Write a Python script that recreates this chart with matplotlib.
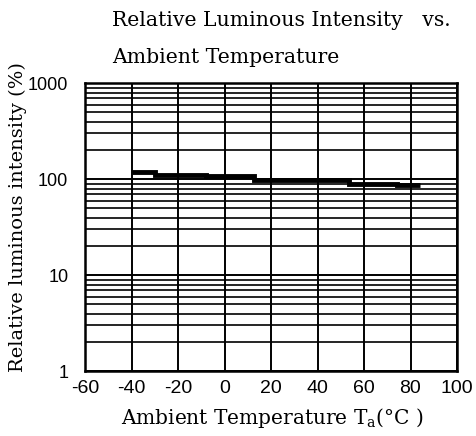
import matplotlib
matplotlib.use("Agg")
import matplotlib.pyplot as plt
from matplotlib.ticker import FixedLocator, LogLocator, NullFormatter

# Step edges (deg C) and relative intensity (%)
temp_edges = [-40, -30, -8, 12.5, 53.5, 74, 84]
intensity = [119, 111, 108, 99, 89, 87]

x_ticks = [-60, -40, -20, 0, 20, 40, 60, 80, 100]
y_ticks = [1, 10, 100, 1000]
y_tick_labels = ["1", "10", "100", "1000"]

SERIF = "DejaVu Serif"
SANS = "Liberation Sans"

plt.rcParams["axes.unicode_minus"] = False

fig = plt.figure(figsize=(4.76, 4.36), dpi=100)
ax = fig.add_axes([85 / 476, 1 - 371.3 / 436, 372 / 476, 288 / 436])

ax.set_yscale("log")
ax.set_xlim(-60, 100)
ax.set_ylim(1, 1000)

# grid: vertical every 20, horizontal at every 1..9 of each decade
ax.xaxis.set_major_locator(FixedLocator(x_ticks))
ax.yaxis.set_major_locator(FixedLocator(y_ticks))
ax.yaxis.set_minor_locator(LogLocator(base=10, subs=range(2, 10)))
ax.yaxis.set_minor_formatter(NullFormatter())
ax.set_yticklabels(y_tick_labels)

ax.grid(True, which="major", axis="both", color="black", linewidth=1.4)
ax.grid(True, which="minor", axis="y", color="black", linewidth=1.2)

ax.tick_params(which="both", length=0)
ax.tick_params(axis="x", pad=6, labelsize=14)
ax.tick_params(axis="y", pad=12, labelsize=13)
for lab in ax.get_xticklabels() + ax.get_yticklabels():
    lab.set_fontfamily(SANS)

for sp in ax.spines.values():
    sp.set_color("black")
    sp.set_linewidth(1.8)

# the curve: thick black steps
ax.stairs(intensity, temp_edges, baseline=None, color="black", linewidth=3.5, zorder=3)

# titles and labels
fig.text(112 / 476, 1 - 20 / 436, "Relative Luminous Intensity   vs.",
         family=SERIF, fontsize=14.7, ha="left", va="center")
fig.text(112 / 476, 1 - 57 / 436, "Ambient Temperature",
         family=SERIF, fontsize=14.7, ha="left", va="center")
fig.text(272 / 476, 1 - 418 / 436, "Ambient Temperature T$_\\mathregular{a}$(°C )",
         family=SERIF, fontsize=14.5, ha="center", va="center")
fig.text(18 / 476, 1 - 217 / 436, "Relative luminous intensity (%)",
         family=SERIF, fontsize=14, ha="center", va="center", rotation=90)

fig.savefig("out.png", dpi=100, facecolor="white")
